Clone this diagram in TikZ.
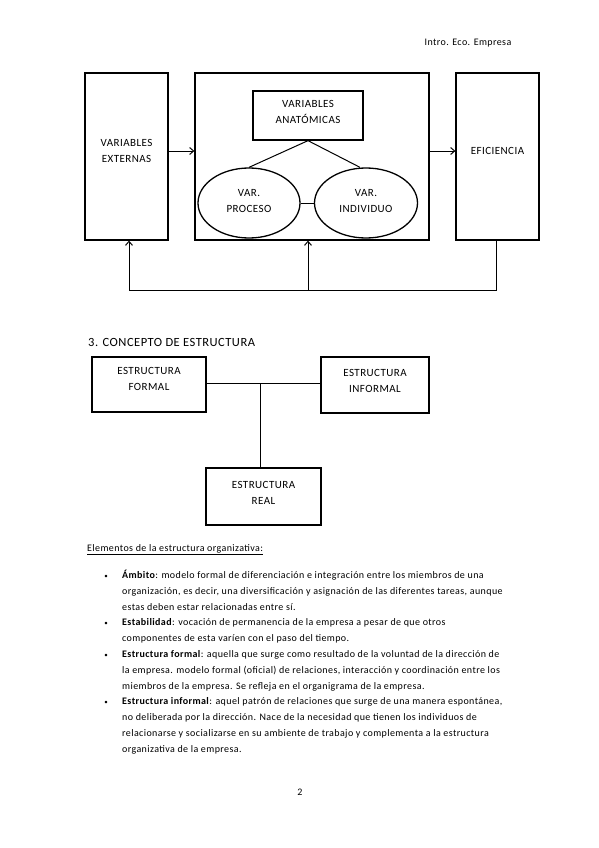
\documentclass[tikz,border=0pt]{standalone}
\usepackage{fontspec}
\setmainfont{Carlito}[LetterSpace=4]
\usetikzlibrary{arrows.meta,shapes.geometric,calc}
\begin{document}
\begin{tikzpicture}[x=1pt,y=-1pt,
  box/.style={draw,line width=1.3pt,rectangle,inner sep=0pt},
  oval/.style={draw,line width=1.3pt,ellipse,inner sep=0pt},
  lbl/.style={font=\fontsize{11}{16}\selectfont,align=center,inner sep=0pt},
  conn/.style={line width=1pt},
  arr/.style={line width=1pt,-{Straight Barb[length=4pt,width=7pt,line width=1pt]}},
  body/.style={font=\fontsize{10}{12}\selectfont,anchor=base west,inner sep=0pt},
  bul/.style={font=\fontsize{7}{9}\selectfont,anchor=base,inner sep=0pt}]
\useasboundingbox[fill=white] (0,0) rectangle (599,848);
% header
\node[font=\fontsize{10}{12}\selectfont,inner sep=0pt] (hdr) at (468,43) {Intro. Eco. Empresa};
% first diagram
\node[box,minimum width=83pt,minimum height=167pt] (ext) at (126.5,156.5) {};
\node[lbl] (extt) at (126.5,151) {VARIABLES\\EXTERNAS};
\node[box,minimum width=234pt,minimum height=167pt] (mid) at (312,156.5) {};
\node[box,minimum width=83pt,minimum height=167pt] (eff) at (497.5,156.5) {};
\node[lbl] (efft) at (497.5,151) {EFICIENCIA};
\node[box,minimum width=110pt,minimum height=49pt] (anat) at (308,115.5) {};
\node[lbl] (anatt) at (308,112) {VARIABLES\\ANATÓMICAS};
\node[oval,minimum width=102pt,minimum height=70pt] (proc) at (249,203) {};
\node[lbl] (proct) at (249,201) {VAR.\\PROCESO};
\node[oval,minimum width=103pt,minimum height=70pt] (indiv) at (366,203) {};
\node[lbl] (indivt) at (366,201) {VAR.\\INDIVIDUO};
\draw[conn] (anat.south) -- (proc.north);
\draw[conn] (anat.south) -- ($(indiv.north)+(-6,0)$);
\draw[conn] (proc.east) -- (indiv.west);
\draw[arr] ($(ext.east)+(0,-5.5)$) -- ($(mid.west)+(0,-5.5)$);
\draw[arr] ($(mid.east)+(0,-5.5)$) -- ($(eff.west)+(0,-5.5)$);
\coordinate (fbR) at (496,290);
\coordinate (fbL) at (129,290);
\coordinate (fbM) at (308,290);
\draw[conn] (eff.south -| fbR) -- (fbR) -- (fbL);
\draw[arr] (fbL) -- (fbL |- ext.south);
\draw[arr] (fbM) -- (fbM |- mid.south);
% section heading
\node[font=\fontsize{12.5}{15}\selectfont,anchor=west,inner sep=0pt] (sec) at (88,342) {3. CONCEPTO DE ESTRUCTURA};
% second diagram
\node[box,minimum width=114pt,minimum height=55pt] (formal) at (149,384.5) {};
\node[lbl] (formalt) at (149,379) {ESTRUCTURA\\FORMAL};
\node[box,minimum width=108pt,minimum height=56pt] (inform) at (375,385) {};
\node[lbl] (informt) at (375,381) {ESTRUCTURA\\INFORMAL};
\node[box,minimum width=115pt,minimum height=57pt] (real) at (263.5,496.5) {};
\node[lbl] (realt) at (263.5,492.5) {ESTRUCTURA\\REAL};
\coordinate (j) at (260,383);
\draw[conn] (formal.east |- j) -- (inform.west |- j);
\draw[conn] (j) -- (j |- real.north);
% text
\node[font=\fontsize{10}{12}\selectfont,anchor=base west,inner sep=0pt] (elem) at (87,551) {\underline{Elementos de la estructura organizativa:}};
\node[bul] (b1) at (106,578) {•};
\node[bul] (b2) at (106,625) {•};
\node[bul] (b3) at (106,657) {•};
\node[bul] (b4) at (106,704) {•};
\node[body] (l1) at (122,578) {\textbf{Ámbito}: modelo formal de diferenciación e integración entre los miembros de una};
\node[body] (l2) at (122,594) {organización, es decir, una diversificación y asignación de las diferentes tareas, aunque};
\node[body] (l3) at (122,610) {estas deben estar relacionadas entre sí.};
\node[body] (l4) at (122,625) {\textbf{Estabilidad}: vocación de permanencia de la empresa a pesar de que otros};
\node[body] (l5) at (122,641) {componentes de esta varíen con el paso del tiempo.};
\node[body] (l6) at (122,657) {\textbf{Estructura formal}: aquella que surge como resultado de la voluntad de la dirección de};
\node[body] (l7) at (122,673) {la empresa. modelo formal (oficial) de relaciones, interacción y coordinación entre los};
\node[body] (l8) at (122,689) {miembros de la empresa. Se refleja en el organigrama de la empresa.};
\node[body] (l9) at (122,704) {\textbf{Estructura informal}: aquel patrón de relaciones que surge de una manera espontánea,};
\node[body] (l10) at (122,720) {no deliberada por la dirección. Nace de la necesidad que tienen los individuos de};
\node[body] (l11) at (122,736) {relacionarse y socializarse en su ambiente de trabajo y complementa a la estructura};
\node[body] (l12) at (122,752) {organizativa de la empresa.};
\node[font=\fontsize{10}{12}\selectfont,inner sep=0pt] (pg) at (300,792) {2};
\end{tikzpicture}
\end{document}
